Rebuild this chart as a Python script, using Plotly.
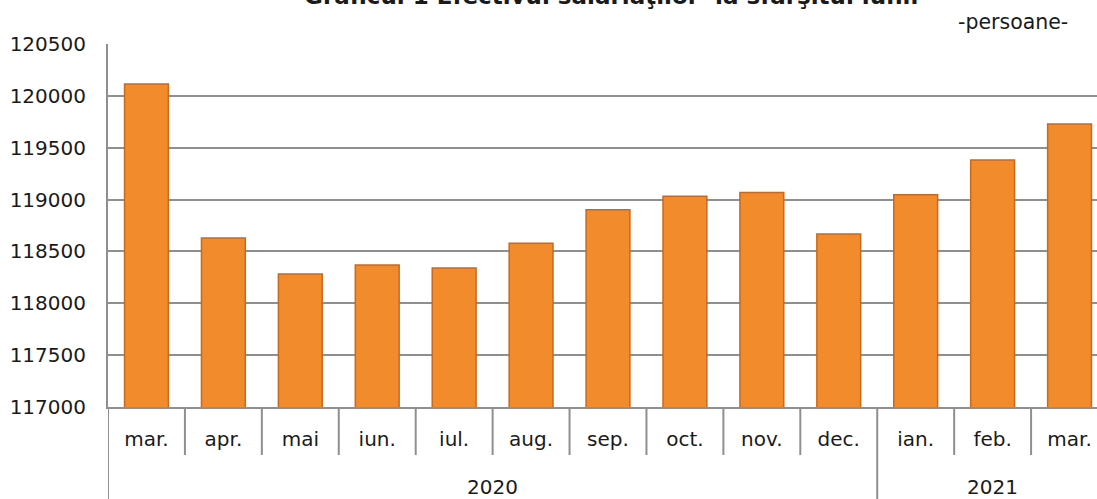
import plotly.graph_objects as go

years = ["2020"] * 10 + ["2021"] * 3
months = ["mar.", "apr.", "mai", "iun.", "iul.", "aug.", "sep.", "oct.", "nov.", "dec.", "ian.", "feb.", "mar."]
values = [120115, 118630, 118283, 118369, 118340, 118578, 118903, 119031, 119067, 118668, 119047, 119382, 119729]
y_ticks = [117000, 117500, 118000, 118500, 119000, 119500, 120000, 120500]

title_text = "Graficul 1 Efectivul salariaţilor  la sfârşitul lunii"
unit_text = "-persoane-"

FONT = "DejaVu Sans"
GRID = "#8f8f8f"
TXT = "#1a1a1a"

W, H = 1097, 499
ML, MT, MB = 108, 44, 92
plot_h = H - MT - MB
n = len(months)
cat_px = 76.9
x_idx = list(range(n))

fig = go.Figure()
fig.add_trace(go.Bar(
    x=x_idx,
    y=values,
    marker=dict(color="#F28B2C", line=dict(color="#C9681F", width=1.5)),
    width=0.57,
))

shapes = []
# month separators (short) and year dividers (long)
for i in range(n - 1):
    long_line = years[i] != years[i + 1]
    shapes.append(dict(type="line", xref="x", yref="paper",
                       x0=i + 0.5, x1=i + 0.5, y0=0,
                       y1=-(MB + 5) / plot_h if long_line else -48 / plot_h,
                       line=dict(color=GRID, width=2)))
shapes.append(dict(type="line", xref="x", yref="paper", x0=-0.5, x1=-0.5,
                   y0=0, y1=-(MB + 5) / plot_h, line=dict(color=GRID, width=2)))

annotations = [
    dict(text="<b>" + title_text + "</b>", xref="paper", yref="paper",
         x=(611 - ML) / (W - ML), y=1 + (MT - 11) / plot_h, xanchor="center", yanchor="bottom",
         showarrow=False, font=dict(family=FONT, size=23, color=TXT)),
    dict(text=unit_text, xref="paper", yref="paper",
         x=(1013 - ML) / (W - ML), y=1 + (MT - 22) / plot_h, xanchor="center", yanchor="middle",
         showarrow=False, font=dict(family=FONT, size=20.5, color=TXT)),
]
for yr in dict.fromkeys(years):
    idx = [i for i, v in enumerate(years) if v == yr]
    annotations.append(dict(text=yr, xref="x", yref="paper",
                            x=sum(idx) / len(idx), y=-(487 - (H - MB)) / plot_h,
                            xanchor="center", yanchor="middle", showarrow=False,
                            font=dict(family=FONT, size=20, color=TXT)))

fig.update_layout(
    width=W, height=H,
    margin=dict(l=ML, r=0, t=MT, b=MB, pad=0),
    paper_bgcolor="white", plot_bgcolor="white",
    showlegend=False,
    font=dict(family=FONT, color=TXT),
    xaxis=dict(
        range=[-0.5, n - 0.5 - 11 / cat_px],
        tickvals=x_idx, ticktext=months,
        ticks="", ticklabelstandoff=13,
        showline=True, linecolor=GRID, linewidth=2,
        tickfont=dict(family=FONT, size=20, color=TXT),
        showgrid=False, zeroline=False,
    ),
    yaxis=dict(
        range=[117000, 120500],
        tickvals=y_ticks,
        ticktext=[str(v) for v in y_ticks],
        showgrid=True, gridcolor=GRID, gridwidth=2,
        showline=True, linecolor=GRID, linewidth=2,
        ticks="", ticklabelstandoff=16,
        tickfont=dict(family=FONT, size=20, color=TXT),
        zeroline=False,
    ),
    shapes=shapes,
    annotations=annotations,
)

fig.write_html("out.html", config={"displayModeBar": False},
               post_script="document.body.style.margin='0';")
